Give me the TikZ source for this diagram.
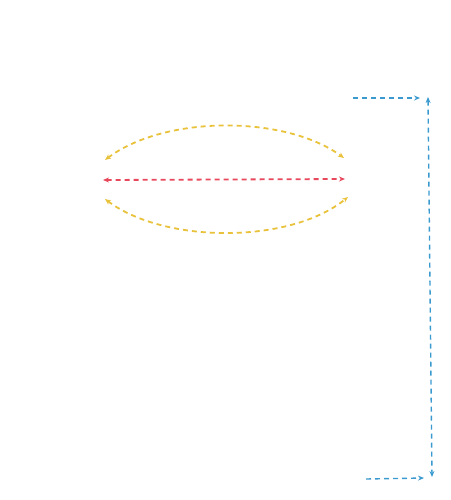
\documentclass[tikz,border=0pt]{standalone}
\usepackage{tikz}
\usetikzlibrary{arrows.meta}
\definecolor{arcyellow}{HTML}{E9C23C}
\definecolor{linered}{HTML}{E8475C}
\definecolor{edgeblue}{HTML}{3A9AD0}

\begin{document}
\begin{tikzpicture}[x=1pt,y=-1pt,>={Stealth[length=6pt,width=5pt]},
    flow/.style={dash pattern=on 5pt off 4pt, line width=1.8pt}]
        \useasboundingbox (0,0) rectangle (450,500);

        % End points
        \coordinate (upL) at (105,160);
        \coordinate (upR) at (344,158);
        \coordinate (midL) at (103,180);
        \coordinate (midR) at (345,179);
        \coordinate (loL) at (105,199);
        \coordinate (loR) at (348,197);

        % Arcs and middle line
        \draw[flow, arcyellow, <->] (upL) .. controls (165,115) and (285,115) .. (upR);
        \draw[flow, linered, <->] (midL) -- (midR);
        \draw[flow, arcyellow, <->] (loL) .. controls (165,244) and (290,244) .. (loR);

        % Right side
        \coordinate (topIn) at (353,98);
        \coordinate (topEnd) at (420,98);
        \coordinate (sideTop) at (428,97);
        \coordinate (sideBot) at (432,477);
        \coordinate (botIn) at (366,479);
        \coordinate (botEnd) at (424,478);

        \draw[flow, edgeblue, line width=1.4pt, ->] (topIn) -- (topEnd);
        \draw[flow, edgeblue, line width=1.4pt, <->] (sideTop) -- (sideBot);
        \draw[flow, edgeblue, line width=1.4pt, ->] (botIn) -- (botEnd);

    \end{tikzpicture}
\end{document}
